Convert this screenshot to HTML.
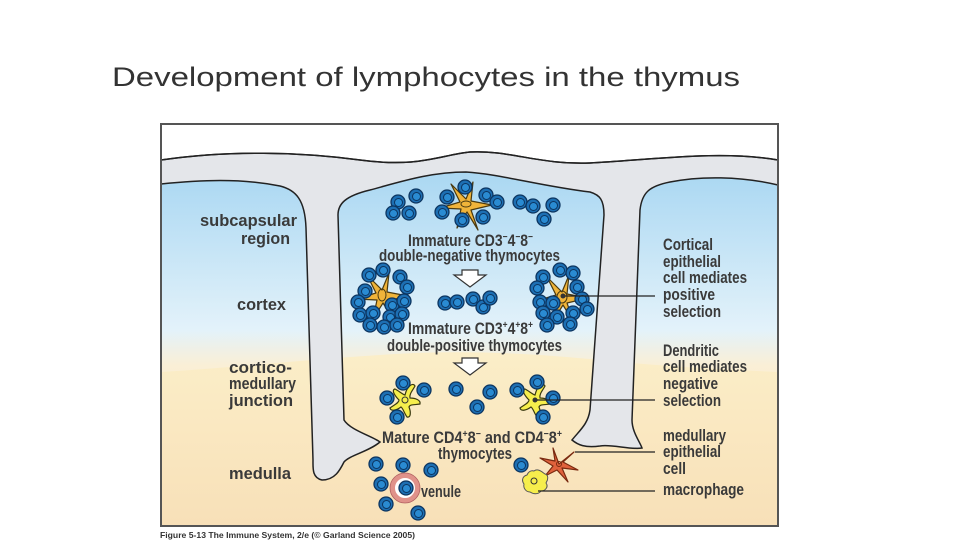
<!DOCTYPE html>
<html><head><meta charset="utf-8"><style>
html,body{margin:0;padding:0;background:#fff;}
svg{display:block;}
.l{font-family:"Liberation Sans Narrow","Liberation Sans",sans-serif;font-weight:bold;font-size:16.5px;fill:#3a3a3a;}
</style></head><body>
<svg width="960" height="540" viewBox="0 0 960 540" xmlns="http://www.w3.org/2000/svg">
<defs>
<linearGradient id="bg" x1="0" y1="0" x2="0" y2="1">
<stop offset="0" stop-color="#a9d7f2"/>
<stop offset="0.45" stop-color="#e3f2fa"/>
<stop offset="0.55" stop-color="#faefd6"/>
<stop offset="1" stop-color="#f7dfb4"/>
</linearGradient>
<linearGradient id="tb" x1="0" y1="0" x2="0" y2="1">
<stop offset="0" stop-color="#fbeec8"/>
<stop offset="1" stop-color="#f8e0b8"/>
</linearGradient>
<g id="c"><circle r="7" fill="#1d6fb3" stroke="#0c3560" stroke-width="1.3"/><circle r="4" cx="0.5" cy="0.5" fill="#2a8bd2" stroke="#0c3560" stroke-width="1"/></g>
<path id="st" d="M0,-5 L7,-22 L5,-3 L26,1 L5,6 L12,26 L1,8 L-9,24 L-5,5 L-26,4 L-6,-2 L-15,-20 Z" stroke="#4a3a10" stroke-width="1.2" stroke-linejoin="round"/>
<path id="dd" d="M0,-5 C2,-14 8,-18 10,-14 C8,-10 4,-6 5,-2 C10,-2 16,0 15,4 C10,5 5,4 4,7 C6,12 6,18 2,17 C-1,13 -2,8 -4,7 C-8,10 -14,12 -15,8 C-11,5 -6,3 -6,0 C-10,-4 -14,-10 -10,-11 C-6,-9 -3,-6 0,-5 Z" stroke="#3a3a10" stroke-width="1.2"/>
</defs>
<text x="112" y="86" font-family="Liberation Sans, sans-serif" font-size="27" fill="#333" textLength="628" lengthAdjust="spacingAndGlyphs">Development of lymphocytes in the thymus</text>
<rect x="161" y="124" width="617" height="402" fill="#fff"/>
<rect x="161" y="170" width="617" height="356" fill="url(#bg)"/>
<path d="M161,372 C230,368 300,360 380,355 C450,350 520,352 600,360 C680,368 740,370 778,372 L778,526 L161,526 Z" fill="url(#tb)"/>
<path d="M161,160 C230,150 300,152 360,160 C420,168 440,155 470,152 C510,150 540,165 590,163 C650,160 720,150 778,160 L778,185 C740,176 700,176 670,182 C650,186 642,192 640,210 L632,420 C632,432 640,442 642,448 C630,450 612,444 600,446 C585,448 578,445 572,440 C580,430 588,424 590,410 L604,215 C604,200 600,195 590,192 C540,186 500,174 466,172 C430,172 400,182 370,190 C345,196 338,204 338,215 L344,420 C350,430 372,436 380,442 C368,452 350,455 344,462 C340,470 335,480 322,480 C312,478 313,468 313,460 L306,228 C305,200 296,190 280,186 C240,178 200,180 161,184 Z" fill="#e4e6ea" stroke="#222" stroke-width="1.5"/>
<path d="M161,160 C230,150 300,152 360,160 C420,168 440,155 470,152 C510,150 540,165 590,163 C650,160 720,150 778,160" fill="none" stroke="#222" stroke-width="1.5"/>
<rect x="161" y="124" width="617" height="402" fill="none" stroke="#555" stroke-width="2"/>
<use href="#st" x="466" y="204" fill="#f0b43a"/>
<ellipse cx="466" cy="204" rx="5" ry="3" fill="none" stroke="#4a3a10"/>
<use href="#st" x="382" y="295" fill="#f0b43a"/>
<ellipse cx="382" cy="295" rx="4" ry="6" fill="none" stroke="#4a3a10"/>
<use href="#st" x="562" y="297" fill="#f0b43a"/>
<ellipse cx="562" cy="297" rx="5" ry="6" fill="none" stroke="#4a3a10"/>
<g>
<use href="#c" x="398" y="202"/><use href="#c" x="416" y="196"/><use href="#c" x="393" y="213"/><use href="#c" x="409" y="213"/>
<use href="#c" x="465" y="187"/><use href="#c" x="447" y="197"/><use href="#c" x="442" y="212"/><use href="#c" x="462" y="220"/><use href="#c" x="483" y="217"/><use href="#c" x="486" y="195"/><use href="#c" x="497" y="202"/>
<use href="#c" x="520" y="202"/><use href="#c" x="533" y="206"/><use href="#c" x="553" y="205"/><use href="#c" x="544" y="219"/>
<use href="#c" x="369" y="275"/><use href="#c" x="383" y="270"/><use href="#c" x="400" y="277"/><use href="#c" x="407" y="287"/><use href="#c" x="365" y="291"/><use href="#c" x="358" y="302"/><use href="#c" x="392" y="305"/><use href="#c" x="404" y="301"/><use href="#c" x="360" y="315"/><use href="#c" x="373" y="313"/><use href="#c" x="390" y="317"/><use href="#c" x="402" y="314"/><use href="#c" x="370" y="325"/><use href="#c" x="384" y="327"/><use href="#c" x="397" y="325"/>
<use href="#c" x="445" y="303"/><use href="#c" x="457" y="302"/><use href="#c" x="473" y="299"/><use href="#c" x="483" y="307"/><use href="#c" x="490" y="298"/>
<use href="#c" x="543" y="277"/><use href="#c" x="560" y="270"/><use href="#c" x="573" y="273"/><use href="#c" x="537" y="288"/><use href="#c" x="577" y="287"/><use href="#c" x="540" y="302"/><use href="#c" x="553" y="303"/><use href="#c" x="582" y="299"/><use href="#c" x="587" y="309"/><use href="#c" x="543" y="313"/><use href="#c" x="557" y="317"/><use href="#c" x="573" y="313"/><use href="#c" x="547" y="325"/><use href="#c" x="570" y="324"/>
</g>
<path d="M462,270 L478,270 L478,275 L486,275 L470,287 L454,275 L462,275 Z" fill="#fff" stroke="#333" stroke-width="1.2"/>
<path d="M462,358 L478,358 L478,363 L486,363 L470,375 L454,363 L462,363 Z" fill="#fff" stroke="#333" stroke-width="1.2"/>
<use href="#dd" x="405" y="400" fill="#f6ee4c"/><circle cx="405" cy="400" r="3" fill="none" stroke="#333"/>
<use href="#dd" x="535" y="400" fill="#f6ee4c"/><circle cx="535" cy="400" r="2.5" fill="#333"/>
<use href="#c" x="403" y="383"/><use href="#c" x="424" y="390"/><use href="#c" x="387" y="398"/><use href="#c" x="397" y="417"/>
<use href="#c" x="456" y="389"/><use href="#c" x="490" y="392"/><use href="#c" x="477" y="407"/>
<use href="#c" x="517" y="390"/><use href="#c" x="537" y="382"/><use href="#c" x="553" y="398"/><use href="#c" x="543" y="417"/>
<path d="M559,464 L574,452 L563,462 L578,470 L562,468 L568,482 L557,470 L545,476 L553,466 L540,458 L555,461 L553,448 Z" fill="#e0623c" stroke="#7a2a10" stroke-width="1.2" stroke-linejoin="round"/>
<circle cx="559" cy="464" r="2.5" fill="none" stroke="#7a2a10"/>
<path d="M534,471 C538,468 542,472 545,474 C549,475 548,480 546,483 C549,487 545,491 541,491 C538,495 533,494 530,492 C526,492 523,488 524,484 C521,480 523,476 527,475 C528,472 531,470 534,471 Z" fill="#f6ee4c" stroke="#555" stroke-width="1"/>
<circle cx="534" cy="481" r="3" fill="none" stroke="#333"/>
<use href="#c" x="521" y="465"/>
<circle cx="405" cy="488" r="12.5" fill="#fff" stroke="#e0928a" stroke-width="5"/>
<circle cx="405" cy="488" r="15" fill="none" stroke="#b06060" stroke-width="0.8"/>
<use href="#c" x="376" y="464"/><use href="#c" x="403" y="465"/><use href="#c" x="431" y="470"/><use href="#c" x="381" y="484"/><use href="#c" x="406" y="488"/><use href="#c" x="386" y="504"/><use href="#c" x="418" y="513"/>
<g stroke="#222" stroke-width="1.3">
<line x1="563" y1="296" x2="655" y2="296"/>
<line x1="537" y1="400" x2="655" y2="400"/>
<line x1="575" y1="452" x2="655" y2="452"/>
<line x1="538" y1="491" x2="655" y2="491"/>
</g>
<circle cx="563" cy="296" r="2.5" fill="#333"/>
<g class="l">
<text x="200" y="226" textLength="97" lengthAdjust="spacingAndGlyphs">subcapsular</text>
<text x="241" y="244" textLength="49" lengthAdjust="spacingAndGlyphs">region</text>
<text x="237" y="310" textLength="49" lengthAdjust="spacingAndGlyphs">cortex</text>
<text x="229" y="373" textLength="63" lengthAdjust="spacingAndGlyphs">cortico-</text>
<text x="229" y="389" textLength="67" lengthAdjust="spacingAndGlyphs">medullary</text>
<text x="229" y="406" textLength="64" lengthAdjust="spacingAndGlyphs">junction</text>
<text x="229" y="479" textLength="62" lengthAdjust="spacingAndGlyphs">medulla</text>
<text x="408" y="246" textLength="125" lengthAdjust="spacingAndGlyphs">Immature CD3<tspan dy="-6" font-size="10">−</tspan><tspan dy="6">4</tspan><tspan dy="-6" font-size="10">−</tspan><tspan dy="6">8</tspan><tspan dy="-6" font-size="10">−</tspan></text>
<text x="379" y="261" textLength="181" lengthAdjust="spacingAndGlyphs">double-negative thymocytes</text>
<text x="408" y="334" textLength="125" lengthAdjust="spacingAndGlyphs">Immature CD3<tspan dy="-6" font-size="10">+</tspan><tspan dy="6">4</tspan><tspan dy="-6" font-size="10">+</tspan><tspan dy="6">8</tspan><tspan dy="-6" font-size="10">+</tspan></text>
<text x="387" y="351" textLength="175" lengthAdjust="spacingAndGlyphs">double-positive thymocytes</text>
<text x="382" y="443" textLength="180" lengthAdjust="spacingAndGlyphs">Mature CD4<tspan dy="-6" font-size="10">+</tspan><tspan dy="6">8</tspan><tspan dy="-6" font-size="10">−</tspan><tspan dy="6"> and CD4</tspan><tspan dy="-6" font-size="10">−</tspan><tspan dy="6">8</tspan><tspan dy="-6" font-size="10">+</tspan></text>
<text x="438" y="459" textLength="74" lengthAdjust="spacingAndGlyphs">thymocytes</text>
<text x="421" y="497" textLength="40" lengthAdjust="spacingAndGlyphs">venule</text>
<text x="663" y="250" textLength="50" lengthAdjust="spacingAndGlyphs">Cortical</text>
<text x="663" y="267" textLength="58" lengthAdjust="spacingAndGlyphs">epithelial</text>
<text x="663" y="283" textLength="84" lengthAdjust="spacingAndGlyphs">cell mediates</text>
<text x="663" y="300" textLength="52" lengthAdjust="spacingAndGlyphs">positive</text>
<text x="663" y="317" textLength="58" lengthAdjust="spacingAndGlyphs">selection</text>
<text x="663" y="356" textLength="56" lengthAdjust="spacingAndGlyphs">Dendritic</text>
<text x="663" y="372" textLength="84" lengthAdjust="spacingAndGlyphs">cell mediates</text>
<text x="663" y="389" textLength="55" lengthAdjust="spacingAndGlyphs">negative</text>
<text x="663" y="406" textLength="58" lengthAdjust="spacingAndGlyphs">selection</text>
<text x="663" y="441" textLength="63" lengthAdjust="spacingAndGlyphs">medullary</text>
<text x="663" y="457" textLength="58" lengthAdjust="spacingAndGlyphs">epithelial</text>
<text x="663" y="474" textLength="23" lengthAdjust="spacingAndGlyphs">cell</text>
<text x="663" y="495" textLength="81" lengthAdjust="spacingAndGlyphs">macrophage</text>
</g>
<text x="160" y="538" font-family="Liberation Sans, sans-serif" font-weight="bold" font-size="8.5" fill="#333" textLength="255" lengthAdjust="spacingAndGlyphs">Figure 5-13  The Immune System, 2/e (© Garland Science 2005)</text>
</svg>
</body></html>
